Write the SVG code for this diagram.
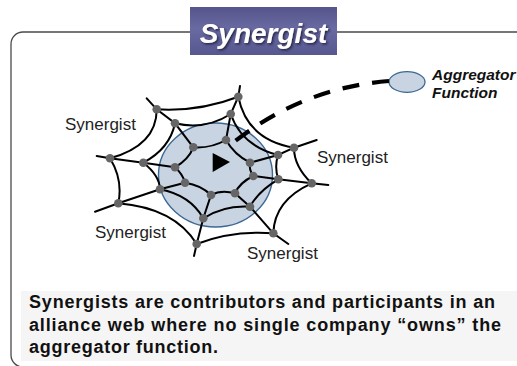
<svg xmlns="http://www.w3.org/2000/svg" width="517" height="366" viewBox="0 0 517 366">
<defs>
<linearGradient id="tg" x1="0" y1="0" x2="0" y2="1">
<stop offset="0" stop-color="#55558b"/>
<stop offset="0.45" stop-color="#6a6aa3"/>
<stop offset="1" stop-color="#575790"/>
</linearGradient>
<filter id="sh" x="-10%" y="-20%" width="130%" height="150%">
<feDropShadow dx="1.5" dy="1.5" stdDeviation="0.8" flood-color="#1c1c3a" flood-opacity="0.9"/>
</filter>
<style>
.lbl{font-family:"Liberation Sans",Arial,sans-serif;font-size:17px;fill:#222}
.th{fill:none;stroke:#000;stroke-width:2;stroke-linecap:round}
.nd{fill:#666}
.cap{font-family:"Liberation Sans",Arial,sans-serif;font-size:18px;font-weight:bold;fill:#111}
.agg{font-family:"Liberation Sans",Arial,sans-serif;font-size:15.5px;font-weight:bold;font-style:italic;fill:#111}
</style>
</defs>
<rect width="517" height="366" fill="#fff"/>
<g id="frame">
<rect x="11" y="32" width="530" height="335" rx="12" fill="none" stroke="#4a4a4a" stroke-width="1.3"/>
</g>
<g id="title">
<rect x="190" y="7" width="147" height="48" fill="url(#tg)"/>
<text x="263.5" y="43" text-anchor="middle" font-family="'Liberation Sans',Arial,sans-serif" font-size="28" font-weight="bold" font-style="italic" fill="#fff" filter="url(#sh)">Synergist</text>
</g>
<g id="web">
<ellipse cx="215.5" cy="175" rx="57" ry="52" fill="#c8d4e2" stroke="#3d6894" stroke-width="1.4"/>
<path class="th" d="M156.7,109.3 Q199.4,111.8 238.3,96.7 Q247,139.8 294,147.7 Q293.9,166.1 311.7,183.3 Q274.3,200.1 273.3,233.3 Q232.1,230.2 196.7,244 Q174.2,207.9 118.3,203.3 Q123.2,180 110,158.3 Q156.8,145.2 156.7,109.3"/>
<path class="th" d="M175,123.3 Q204.9,130.5 230.7,114 Q241.7,145.8 278,155 Q274.2,167.5 278.3,179.3 Q258.6,190.8 250,206.7 Q224,205 203.3,218.3 Q190,195.1 160,189.3 Q159.7,175.5 143.3,162.7 Q169.7,148.8 175,123.3"/>
<path class="th" d="M193.3,147.3 Q210.7,148.6 226,140 Q234.1,154.5 250,162.7 Q248.7,169.4 253.3,176 Q239.7,182.5 235,193.3 Q221.4,189.5 211,195 Q201.3,185.2 185,182.7 Q183,174.6 175,167.3 Q188.8,159.2 193.3,147.3"/>
<path class="th" d="M146.7,98.3 L156.7,109.3 L175,123.3 L193.3,147.3"/>
<path class="th" d="M240,86 L238.3,96.7 L230.7,114 L226,140"/>
<path class="th" d="M316.7,140 L294,147.7 L278,155 L250,162.7"/>
<path class="th" d="M328.3,185 L311.7,183.3 L278.3,179.3 L253.3,176"/>
<path class="th" d="M288.3,244 L273.3,233.3 L250,206.7 L235,193.3"/>
<path class="th" d="M194,256 L196.7,244 L203.3,218.3 L211,195"/>
<path class="th" d="M95,211.7 L118.3,203.3 L160,189.3 L185,182.7"/>
<path class="th" d="M96.7,156 L110,158.3 L143.3,162.7 L175,167.3"/>
<g class="nd">
<circle cx="156.7" cy="109.3" r="4.3"/><circle cx="238.3" cy="96.7" r="4.3"/><circle cx="294" cy="147.7" r="4.3"/><circle cx="311.7" cy="183.3" r="4.3"/>
<circle cx="273.3" cy="233.3" r="4.3"/><circle cx="196.7" cy="244" r="4.3"/><circle cx="118.3" cy="203.3" r="4.3"/><circle cx="110" cy="158.3" r="4.3"/>
<circle cx="175" cy="123.3" r="4.3"/><circle cx="230.7" cy="114" r="4.3"/><circle cx="278" cy="155" r="4.3"/><circle cx="278.3" cy="179.3" r="4.3"/>
<circle cx="250" cy="206.7" r="4.3"/><circle cx="203.3" cy="218.3" r="4.3"/><circle cx="160" cy="189.3" r="4.3"/><circle cx="143.3" cy="162.7" r="4.3"/>
<circle cx="193.3" cy="147.3" r="4.3"/><circle cx="226" cy="140" r="4.3"/><circle cx="250" cy="162.7" r="4.3"/><circle cx="253.3" cy="176" r="4.3"/>
<circle cx="235" cy="193.3" r="4.3"/><circle cx="211" cy="195" r="4.3"/><circle cx="185" cy="182.7" r="4.3"/><circle cx="175" cy="167.3" r="4.3"/>
</g>
</g>
<g id="aggregator">
<ellipse cx="407" cy="82" rx="18" ry="10.3" fill="#c8d4e2" stroke="#3d6894" stroke-width="1.3"/>
<text class="agg" x="432" y="80">Aggregator</text>
<text class="agg" x="432" y="98">Function</text>
</g>
<g id="labels">
<text class="lbl" x="65" y="130">Synergist</text>
<text class="lbl" x="317" y="163">Synergist</text>
<text class="lbl" x="95" y="238">Synergist</text>
<text class="lbl" x="247" y="259">Synergist</text>
</g>
<g id="connectors">
<path d="M389,81 Q300,88 229,146" fill="none" stroke="#000" stroke-width="4.2" stroke-dasharray="17 13"/>
<polygon points="212.7,153 212.7,172 230,162" fill="#000"/>
</g>
<g id="caption">
<rect x="21" y="291" width="500" height="70" fill="#f5f5f5"/>
<text class="cap" x="29" y="308" textLength="466" lengthAdjust="spacing">Synergists are contributors and participants in an</text>
<text class="cap" x="29" y="330.5" textLength="472" lengthAdjust="spacing">alliance web where no single company “owns” the</text>
<text class="cap" x="29" y="353" textLength="189" lengthAdjust="spacing">aggregator function.</text>
</g>
</svg>
